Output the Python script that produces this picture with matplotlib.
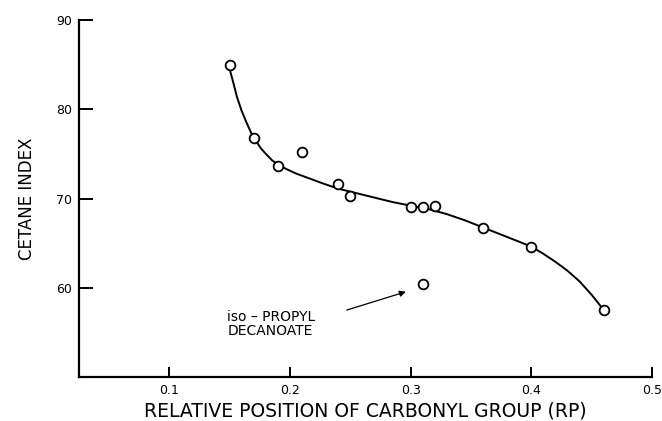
import matplotlib
matplotlib.use("Agg")
import matplotlib.pyplot as plt

# measured points (relative position of carbonyl group vs cetane index)
rp = [0.15, 0.17, 0.19, 0.21, 0.24, 0.25, 0.30, 0.31, 0.32, 0.36, 0.40, 0.46]
cetane = [85.0, 76.8, 73.6, 75.2, 71.6, 70.3, 69.1, 69.1, 69.2, 66.7, 64.6, 57.5]

# iso-propyl decanoate, off the curve
iso_rp = [0.31]
iso_cetane = [60.4]

# hand-drawn trend curve
curve_rp = [0.150, 0.153, 0.156, 0.160, 0.164, 0.168, 0.172, 0.176, 0.180, 0.185,
            0.190, 0.197, 0.205, 0.215, 0.227, 0.240, 0.255, 0.270, 0.285, 0.300,
            0.315, 0.330, 0.345, 0.360, 0.375, 0.390, 0.400, 0.410, 0.420, 0.430,
            0.440, 0.450, 0.460]
curve_cetane = [84.5, 83.0, 81.4, 79.8, 78.5, 77.3, 76.4, 75.6, 75.0, 74.3,
                73.8, 73.3, 72.8, 72.3, 71.7, 71.1, 70.6, 70.1, 69.6, 69.2,
                68.8, 68.25, 67.55, 66.75, 65.95, 65.15, 64.6, 63.8, 62.9, 61.9,
                60.7, 59.2, 57.5]

xticks = [0.1, 0.2, 0.3, 0.4, 0.5]
xticklabels = ["0.1", "0.2", "0.3", "0.4", "0.5"]
yticks = [60, 70, 80, 90]

fig = plt.figure(figsize=(6.62, 4.21), dpi=100)
ax = fig.add_axes([0.119, 0.1045, 0.866, 0.848])

ax.plot(curve_rp, curve_cetane, color="black", lw=1.4, zorder=2)
ax.plot(rp, cetane, "o", ms=7, mfc="white", mec="black", mew=1.3, zorder=3)
ax.plot(iso_rp, iso_cetane, "o", ms=7, mfc="white", mec="black", mew=1.3, zorder=3)

ax.annotate("", xy=(0.296, 59.55), xytext=(0.247, 57.5),
            arrowprops=dict(arrowstyle="-|>", color="black", lw=0.9,
                            mutation_scale=9, shrinkA=0, shrinkB=0))
ax.text(0.148, 56.7, "iso – PROPYL", fontsize=10, va="center", ha="left")
ax.text(0.148, 55.2, "DECANOATE", fontsize=10, va="center", ha="left")

ax.set_xlim(0.025, 0.5)
ax.set_ylim(50, 90)
ax.set_xticks(xticks)
ax.set_xticklabels(xticklabels)
ax.set_yticks(yticks)

for side in ["top", "right"]:
    ax.spines[side].set_visible(False)
for side in ["left", "bottom"]:
    ax.spines[side].set_linewidth(1.6)

ax.tick_params(axis="y", direction="in", length=10, width=1.4, labelsize=9, pad=5)
ax.tick_params(axis="x", direction="in", length=7, width=1.4, labelsize=9, pad=5)

ax.set_xlabel("RELATIVE POSITION OF CARBONYL GROUP (RP)", fontsize=13.5, labelpad=3)
ax.set_ylabel("CETANE INDEX", fontsize=12, labelpad=14)

fig.savefig("out.png", dpi=100)
